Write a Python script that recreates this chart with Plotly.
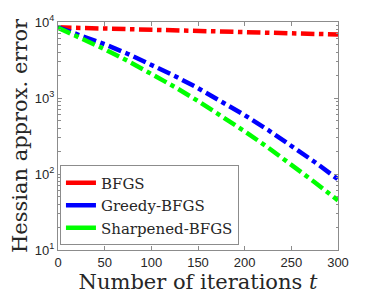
import plotly.graph_objects as go

t = [0, 25, 50, 75, 100, 125, 150, 175, 200, 225, 250, 275, 300]
bfgs = [8500, 8350, 8200, 8050, 7900, 7750, 7600, 7480, 7350, 7220, 7100, 6980, 6850]
greedy = [8500, 6670, 5100, 3800, 2760, 1950, 1350, 905, 594, 380, 237, 144, 85]
sharpened = [8400, 6140, 4385, 3060, 2090, 1400, 912, 583, 365, 223, 134, 78, 45]

names = ["BFGS", "Greedy-BFGS", "Sharpened-BFGS"]
colors = ["#ff0000", "#0000ff", "#00ff00"]
series = [bfgs, greedy, sharpened]

xticks = [0, 50, 100, 150, 200, 250, 300]
yticks = [10, 100, 1000, 10000]
yticktext = ["10<sup>1</sup>", "10<sup>2</sup>", "10<sup>3</sup>", "10<sup>4</sup>"]

SERIF = "DejaVu Serif, serif"

fig = go.Figure()
for n, c, s in zip(names, colors, series):
    fig.add_trace(go.Scatter(x=t, y=s, mode="lines", name=n, showlegend=False,
                             line=dict(color=c, width=4.5, dash="dashdot")))
# solid legend samples
for n, c in zip(names, colors):
    fig.add_trace(go.Scatter(x=[None], y=[None], mode="lines", name=n, showlegend=True,
                             line=dict(color=c, width=4.5)))

axis_common = dict(showgrid=False, zeroline=False, showline=True, linecolor="#8c8c8c",
                   linewidth=1, mirror="allticks", ticks="inside", ticklen=4,
                   tickcolor="#8c8c8c", automargin=False,
                   tickfont=dict(family="Liberation Sans, Arial", size=13, color="#262626"))

# page body has an 8px default margin, so the figure is sized/offset to compensate
fig.update_layout(
    width=366, height=294,
    margin=dict(l=50, r=36, t=14, b=52),
    paper_bgcolor="white", plot_bgcolor="white",
    xaxis=dict(range=[0, 300], tickvals=xticks,
               title=dict(text="Number of iterations <i>t</i>", standoff=2,
                          font=dict(family=SERIF, size=21, color="#262626")),
               **axis_common),
    yaxis=dict(type="log", range=[1, 4], tickvals=yticks, ticktext=yticktext,
               minor=dict(ticks="inside", ticklen=2.5, dtick="D1", tickcolor="#8c8c8c"),
               title=dict(text="Hessian approx. error", standoff=4,
                          font=dict(family=SERIF, size=21, color="#262626")),
               **axis_common),
    legend=dict(x=0.007, y=0.02, xanchor="left", yanchor="bottom",
                bgcolor="white", bordercolor="#8c8c8c", borderwidth=1,
                itemwidth=30, tracegroupgap=0,
                font=dict(family=SERIF, size=15, color="#262626")),
    showlegend=True,
)

fig.write_html("out.html")
